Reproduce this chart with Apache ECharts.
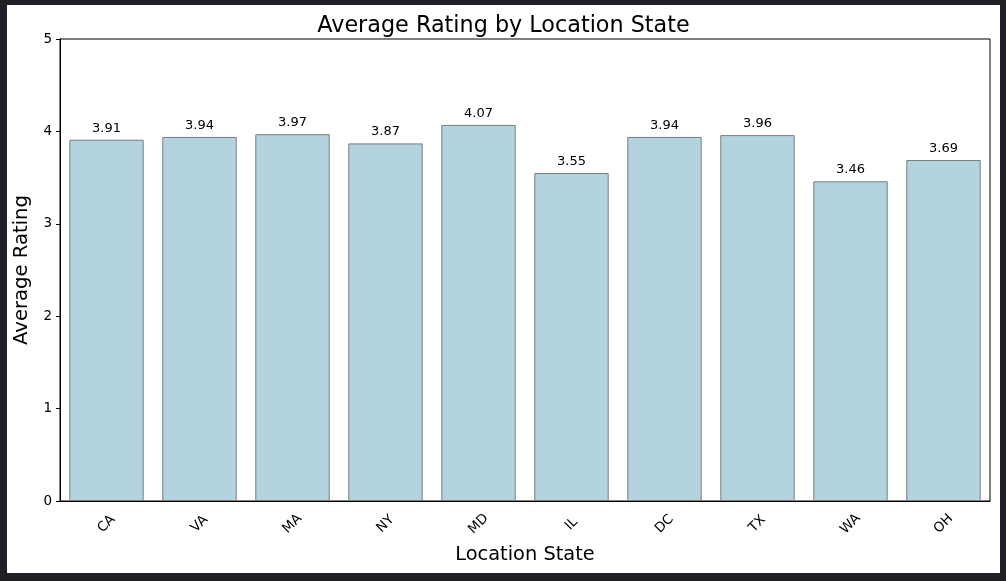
<!DOCTYPE html>
<html>
<head>
<meta charset="utf-8">
<script src="https://cdn.jsdelivr.net/npm/echarts@6/dist/echarts.min.js"></script>
<style>
  html, body { margin: 0; padding: 0; background: #1f2127; }
  #frame { position: absolute; left: 7px; top: 5px; width: 993px; height: 568px; background: #fff; }
  #chart { width: 993px; height: 568px; }
</style>
</head>
<body>
<div id="frame"><div id="chart"></div></div>
<script>
var states = ['CA', 'VA', 'MA', 'NY', 'MD', 'IL', 'DC', 'TX', 'WA', 'OH'];
var ratings = [3.91, 3.94, 3.97, 3.87, 4.07, 3.55, 3.94, 3.96, 3.46, 3.69];
var yTicks = [0, 1, 2, 3, 4, 5];

var font = 'DejaVu Sans';
var myChart = echarts.init(document.getElementById('chart'));
var chartOption = {
	animation: false,
	textStyle: { fontFamily: font },
	title: {
		text: 'Average Rating by Location State',
		left: 'center',
		top: 5,
		textStyle: { fontFamily: font, fontSize: 22.3, fontWeight: 'normal', color: '#000' }
	},
	grid: {
		left: 53, top: 34, right: 10, bottom: 72,
		outerBoundsMode: 'none',
		containLabel: false,
		show: true, borderColor: '#000', borderWidth: 1
	},
	xAxis: {
		type: 'category',
		data: states,
		name: 'Location State',
		nameLocation: 'middle',
		nameGap: 44,
		nameTextStyle: { fontFamily: font, fontSize: 19.4, color: '#000' },
		axisLine: { lineStyle: { color: '#000', width: 1 } },
		axisTick: { alignWithLabel: true, length: 4, lineStyle: { color: '#000' } },
		axisLabel: {
			rotate: 45, align: 'center', verticalAlign: 'middle', margin: 23,
			fontFamily: font, fontSize: 13.5, color: '#000'
		}
	},
	yAxis: {
		type: 'value',
		min: yTicks[0],
		max: yTicks[yTicks.length - 1],
		interval: 1,
		name: 'Average Rating',
		nameLocation: 'middle',
		nameGap: 28,
		nameTextStyle: { fontFamily: font, fontSize: 19.6, color: '#000' },
		axisLine: { show: true, lineStyle: { color: '#000', width: 1 } },
		axisTick: { show: true, length: 4, lineStyle: { color: '#000' } },
		axisLabel: { margin: 8, fontFamily: font, fontSize: 13.5, color: '#000' },
		splitLine: { show: false }
	},
	series: [{
		type: 'bar',
		data: ratings,
		barCategoryGap: '20%',
		itemStyle: { color: '#b3d4df', borderColor: '#7b7b7b', borderWidth: 1 },
		label: {
			show: true, position: 'top', distance: 5,
			fontFamily: font, fontSize: 13, color: '#000',
			formatter: function (p) { return p.value.toFixed(2); }
		}
	}]
};
myChart.setOption(chartOption);
</script>
</body>
</html>
